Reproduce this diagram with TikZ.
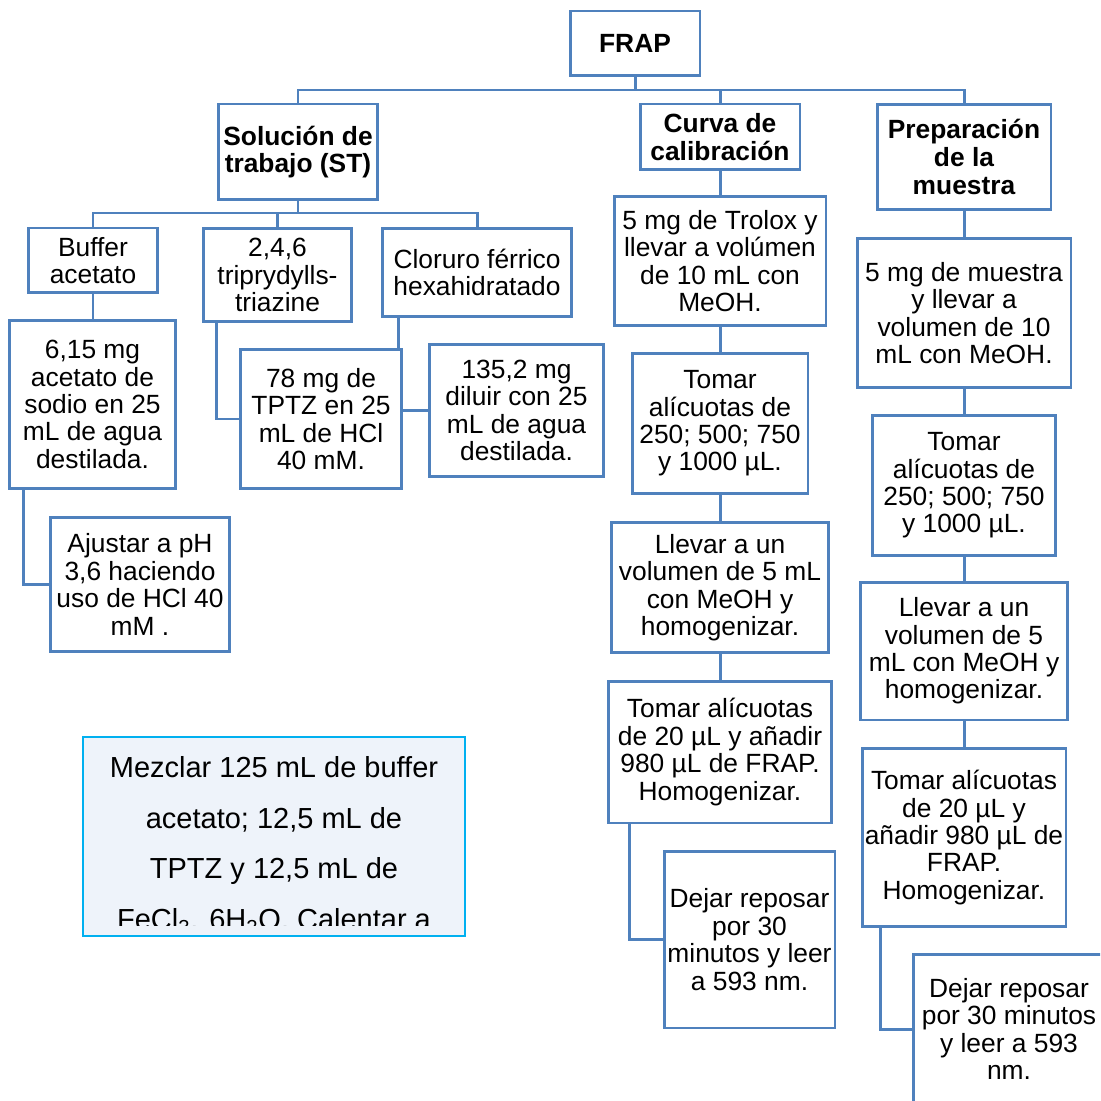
\documentclass[tikz,border=0pt]{standalone}
\usepackage{fontspec}
\setmainfont{Liberation Sans}
\usetikzlibrary{backgrounds}
\definecolor{linkblue}{RGB}{79,129,189}
\definecolor{mixblue}{RGB}{0,176,240}
\definecolor{mixfill}{RGB}{238,243,250}

\begin{document}
\begin{tikzpicture}[x=0.02cm, y=-0.02cm,
	box/.style={draw=linkblue, line width=1.7pt, fill=white, align=center, inner sep=1pt, font=\fontsize{15}{15.6}\selectfont},
	head/.style={box, font=\fontsize{15}{15.8}\selectfont\bfseries},
	link/.style={draw=linkblue, line width=1.7pt}]
		\useasboundingbox (0,0) rectangle (1100,1101);
		\clip (0,0) rectangle (1100,1101);
		
		% Top level
		\node[head, minimum width=2.6cm, minimum height=1.3cm] (frap) at (635,43.5) {FRAP};
		\node[head, minimum width=3.2cm, minimum height=1.92cm] (st) at (298,152) {Solución de\\trabajo (ST)};
		\node[head, minimum width=3.2cm, minimum height=1.32cm] (curva) at (720,137) {Curva de\\calibración};
		\node[head, minimum width=3.48cm, minimum height=2.12cm] (prep) at (964,157) {Preparación\\de la\\muestra};
		
		% Solucion de trabajo
		\node[box, minimum width=2.6cm, minimum height=1.3cm] (buffer) at (93,260.5) {Buffer\\acetato};
		\node[box, minimum width=2.98cm, minimum height=1.88cm] (tptz) at (277.5,275) {2,4,6\\triprydylls-\\triazine};
		\node[box, minimum width=3.8cm, minimum height=1.78cm] (cloruro) at (477,272.5) {Cloruro férrico\\hexahidratado};
		\node[box, minimum width=3.34cm, minimum height=3.38cm] (acetato) at (92.5,404.5) {6,15 mg\\acetato de\\sodio en 25\\mL de agua\\destilada.};
		\node[box, minimum width=3.6cm, minimum height=2.7cm] (ajuste) at (140,584.5) {Ajustar a pH\\3,6 haciendo\\uso de HCl 40\\mM .};
		\node[box, minimum width=3.24cm, minimum height=2.8cm] (tptzsol) at (321,419) {78 mg de\\TPTZ en 25\\mL de HCl\\40 mM.};
		\node[box, minimum width=3.5cm, minimum height=2.66cm] (fecl) at (516.5,410.5) {135,2 mg\\diluir con 25\\mL de agua\\destilada.};
		
		% Curva de calibracion
		\node[box, minimum width=4.24cm, minimum height=2.6cm] (trolox) at (720,261) {5 mg de Trolox y\\llevar a volúmen\\de 10 mL con\\MeOH.};
		\node[box, minimum width=3.52cm, minimum height=2.82cm] (calA) at (720,423.5) {Tomar\\alícuotas de\\250; 500; 750\\y 1000 µL.};
		\node[box, minimum width=4.36cm, minimum height=2.62cm] (calB) at (720,587.5) {Llevar a un\\volumen de 5 mL\\con MeOH y\\homogenizar.};
		\node[box, minimum width=4.48cm, minimum height=2.84cm] (calC) at (720,752) {Tomar alícuotas\\de 20 µL y añadir\\980 µL de FRAP.\\Homogenizar.};
		\node[box, minimum width=3.42cm, minimum height=3.54cm] (calD) at (749.5,939.5) {Dejar reposar\\por 30\\minutos y leer\\a 593 nm.};
		
		% Preparacion de la muestra
		\node[box, minimum width=4.28cm, minimum height=3.0cm] (muestra) at (964,313) {5 mg de muestra\\y llevar a\\volumen de 10\\mL con MeOH.};
		\node[box, minimum width=3.66cm, minimum height=2.82cm] (mA) at (964,485.5) {Tomar\\alícuotas de\\250; 500; 750\\y 1000 µL.};
		\node[box, minimum width=4.14cm, minimum height=2.76cm] (mB) at (964,651) {Llevar a un\\volumen de 5\\mL con MeOH y\\homogenizar.};
		\node[box, minimum width=4.08cm, minimum height=3.58cm] (mC) at (964,837.5) {Tomar alícuotas\\de 20 µL y\\añadir 980 µL de\\FRAP.\\Homogenizar.};
		\node[box, minimum width=3.84cm, minimum height=3.0cm] (mD) at (1009,1029) {Dejar reposar\\por 30 minutos\\y leer a 593\\nm.};
		
		% Mixing note (text cut by the box)
		\node[draw=mixblue, fill=mixfill, line width=1.3pt, minimum width=7.64cm, minimum height=3.98cm] (mezcla) at (274,836.5) {};
		\begin{scope}
			\clip (85,739) rectangle (463,925);
			\node[anchor=north, align=center, inner sep=0pt, font=\fontsize{16.5}{28.9}\selectfont] (mezclatxt) at (274,756) {Mezclar 125 mL de buffer\\acetato; 12,5 mL de\\TPTZ y 12,5 mL de\\FeCl\textsubscript{3}. 6H\textsubscript{2}O. Calentar a};
		\end{scope}
		
		% Connectors
		\begin{scope}[on background layer]
			\coordinate (topbus) at (635,90);
			\coordinate (stbus) at (300,213);
			\draw[link] (frap.south) -- (topbus);
			\draw[link] (st.north) |- (topbus) -| (prep.north);
			\draw[link] (curva.north) -- (curva.north |- topbus);
			\draw[link] (st.south) -- (st.south |- stbus);
			\draw[link] (buffer.north) |- (stbus) -| (cloruro.north);
			\draw[link] (tptz.north) -- (tptz.north |- stbus);
			\draw[link] (buffer.south) -- (buffer.south |- acetato.north);
			\draw[link] ([xshift=0.32cm]acetato.south west) |- (ajuste.west);
			\draw[link] ([xshift=0.3cm]tptz.south west) |- (tptzsol.west);
			\draw[link] ([xshift=0.36cm]cloruro.south west) |- (fecl.west);
			\draw[link] (curva) -- (trolox) -- (calA) -- (calB) -- (calC);
			\draw[link] ([xshift=0.46cm]calC.south west) |- (calD.west);
			\draw[link] (prep) -- (muestra) -- (mA) -- (mB) -- (mC);
			\draw[link] ([xshift=0.4cm]mC.south west) |- (mD.west);
		\end{scope}
		
	\end{tikzpicture}
\end{document}
